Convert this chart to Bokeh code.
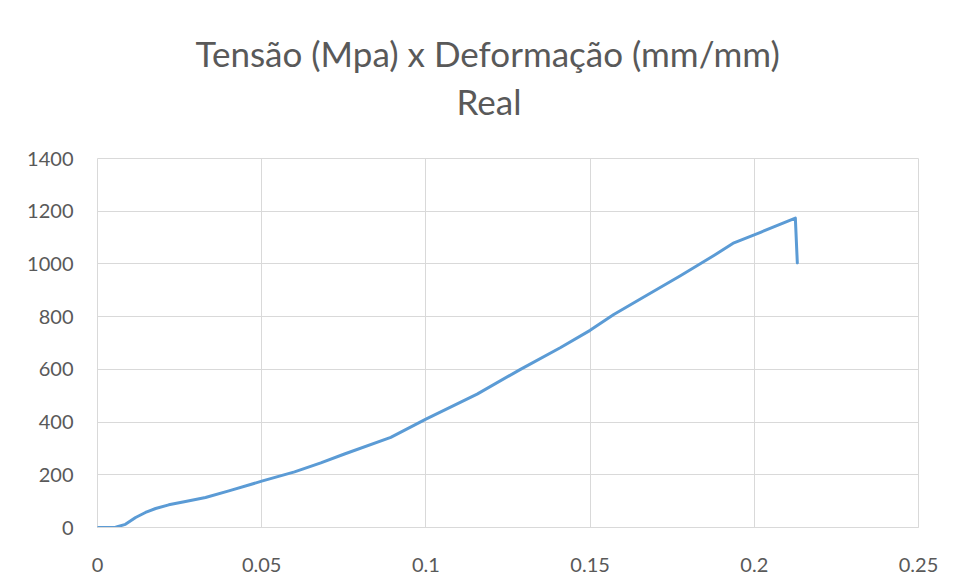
from bokeh.plotting import figure
from bokeh.models import Title, FixedTicker, Range1d
from bokeh.embed import file_html
from bokeh.resources import INLINE

# Data
strain = [0.0, 0.003, 0.0055, 0.0085, 0.0116, 0.0146, 0.0177, 0.0217, 0.0268, 0.0329,
          0.040, 0.0466, 0.05, 0.06, 0.068, 0.075, 0.0893, 0.1, 0.1156, 0.1288,
          0.1409, 0.15, 0.1572, 0.1674, 0.1775, 0.1877, 0.1938, 0.2019, 0.2125, 0.2131]
stress = [0, 0, 1, 12, 38, 57, 72, 86, 99, 114,
          139, 163, 176, 211, 245, 278, 342, 411, 506, 600,
          682, 748, 808, 882, 955, 1032, 1080, 1120, 1174, 1004]

x_ticks = [0, 0.05, 0.1, 0.15, 0.2, 0.25]
x_tick_labels = ["0", "0.05", "0.1", "0.15", "0.2", "0.25"]
y_ticks = [0, 200, 400, 600, 800, 1000, 1200, 1400]

title_main = "Tensão (Mpa) x Deformação (mm/mm)"
title_sub = "Real"

FONT = "Lato"
TXT = "#595959"
GRID = "#d9d9d9"

p = figure(width=948, height=575, output_backend="svg", toolbar_location=None,
           x_range=Range1d(0, 0.25), y_range=Range1d(0, 1400),
           min_border_left=97, min_border_right=30, min_border_bottom=48,
           min_border_top=158, title=None)

p.line(strain, stress, line_color="#5b9bd5", line_width=3, line_join="round",
       line_cap="round")

# spacer between plot area and the two title lines
p.add_layout(Title(text=" ", text_font_size="1px", standoff=33), "above")
p.add_layout(Title(text=title_sub, align="left", offset=359, text_font=FONT,
                   text_font_size="35px", text_font_style="normal", text_color=TXT,
                   standoff=2), "above")
p.add_layout(Title(text=title_main, align="left", offset=98, text_font=FONT,
                   text_font_size="35px", text_font_style="normal", text_color=TXT,
                   standoff=6), "above")

p.xaxis.ticker = FixedTicker(ticks=x_ticks)
p.xaxis.major_label_overrides = {t: l for t, l in zip(x_ticks, x_tick_labels)}
p.yaxis.ticker = FixedTicker(ticks=y_ticks)

for ax in (p.xaxis[0], p.yaxis[0]):
    ax.major_tick_line_color = None
    ax.minor_tick_line_color = None
    ax.major_tick_out = 0
    ax.major_tick_in = 0
    ax.major_label_text_font = FONT
    ax.major_label_text_font_size = "20px"
    ax.major_label_text_color = TXT
p.xaxis.axis_line_color = GRID
p.yaxis.axis_line_color = None
p.xaxis.major_label_standoff = 30
p.yaxis.major_label_standoff = 24

p.xgrid.grid_line_color = GRID
p.ygrid.grid_line_color = GRID
p.outline_line_color = GRID
p.background_fill_color = "white"
p.border_fill_color = "white"

open("out.html", "w").write(file_html(p, INLINE))
